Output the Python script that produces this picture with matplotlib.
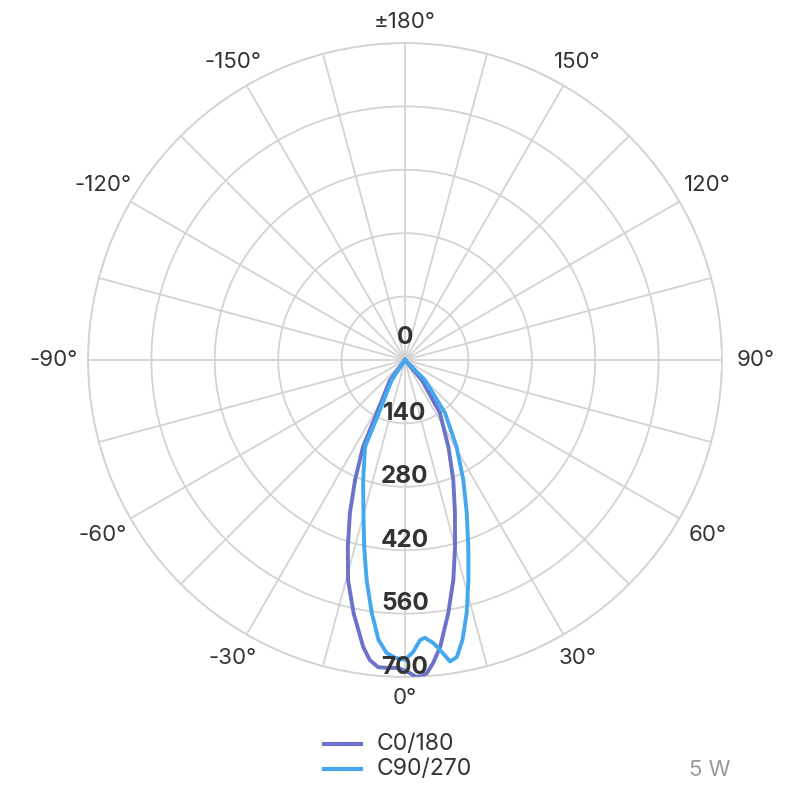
import matplotlib
matplotlib.use('Agg')
import matplotlib.pyplot as plt
import numpy as np

plt.rcParams['font.family'] = ['Inter', 'DejaVu Sans']

# C0/180 curve (angle in degrees, intensity)
c0_angles = [-90, -36.9, -27.8, -25.8, -22.6, -19.8, -17.0, -14.5, -11.5, -8.3, -6.7,
             -5.0, -3.2, -1.3, 0.55, 2.0, 3.1, 4.0, 5.3, 7.0, 9.7, 12.4, 15.0,
             18.1, 21.9, 26.5, 33.4, 39.9, 90]
c0_values = [0, 55, 137, 213, 287, 359, 432, 502, 570, 640, 667,
             681, 681, 680, 689, 700, 699, 693, 672, 638, 567, 497, 427,
             355, 286, 215, 140, 58, 0]

# C90/270 curve
c90_angles = [-90, -33.6, -26.1, -24.7, -19.2, -15.2, -12.3, -9.9, -7.5, -5.4, -3.6,
              -1.9, 0.0, 1.6, 3.1, 4.1, 5.7, 6.9, 8.5, 9.9, 11.6, 13.7, 16.1,
              18.7, 22.0, 25.9, 30.7, 37.0, 45.0, 90]
c90_values = [0, 53, 135, 211, 281, 350, 423, 493, 563, 621, 648,
              658, 662, 645, 619, 615, 628, 645, 673, 666, 631, 575, 505,
              436, 364, 295, 223, 147, 62, 0]

r_ticks = [0, 140, 280, 420, 560, 700]
theta_labels = {0: '0°', 30: '30°', 60: '60°', 90: '90°', 120: '120°', 150: '150°',
                180: '±180°', 210: '-150°', 240: '-120°', 270: '-90°', 300: '-60°',
                330: '-30°'}
series_names = ['C0/180', 'C90/270']
colors = ['#6a73c8', '#45a7ee']
grid_col = '#d3d3d3'
text_col = '#333333'

fig = plt.figure(figsize=(8, 8), dpi=100)
ax = fig.add_axes([0.11, 0.15375, 0.7925, 0.7925], projection='polar')
ax.set_theta_zero_location('S')
ax.set_theta_direction(1)
ax.set_ylim(0, 700)

ax.plot(np.deg2rad(c0_angles), c0_values, color=colors[0], lw=2.8, zorder=5,
        solid_joinstyle='round')
ax.plot(np.deg2rad(c90_angles), c90_values, color=colors[1], lw=2.8, zorder=6,
        solid_joinstyle='round')

# grid
ax.set_rgrids(r_ticks[1:], labels=[''] * 5)
ax.set_thetagrids(range(0, 360, 15), labels=[''] * 24)
ax.grid(True, color=grid_col, lw=1.3)
ax.spines['polar'].set_color(grid_col)
ax.spines['polar'].set_linewidth(1.3)
ax.tick_params(length=0)

# radial labels
for r in r_ticks:
    off = 22 if r == 0 else 10
    ax.annotate(str(r), xy=(0, r), xytext=(0, off), textcoords='offset pixels',
                ha='center', va='center', fontsize=17.5, fontweight='bold',
                color=text_col, zorder=10)

# angle labels
for deg, lab in theta_labels.items():
    t = np.deg2rad(deg)
    rr = 700 * (338 + 13 * abs(np.sin(t))) / 317
    ax.text(t, rr, lab, ha='center', va='center', fontsize=16, color=text_col,
            clip_on=False)

# legend
for i, (name, c) in enumerate(zip(series_names, colors)):
    y = 1 - (744 + 25 * i) / 800
    fig.add_artist(plt.Line2D([324 / 800, 361 / 800], [y, y], color=c, lw=3,
                              transform=fig.transFigure))
    fig.text(377 / 800, y, name, ha='left', va='center', fontsize=16.5, color=text_col)

fig.text(710 / 800, 1 - 770 / 800, '5 W', ha='center', va='center', fontsize=16,
         color='#999999')

fig.savefig('out.png', dpi=100, facecolor='white')
